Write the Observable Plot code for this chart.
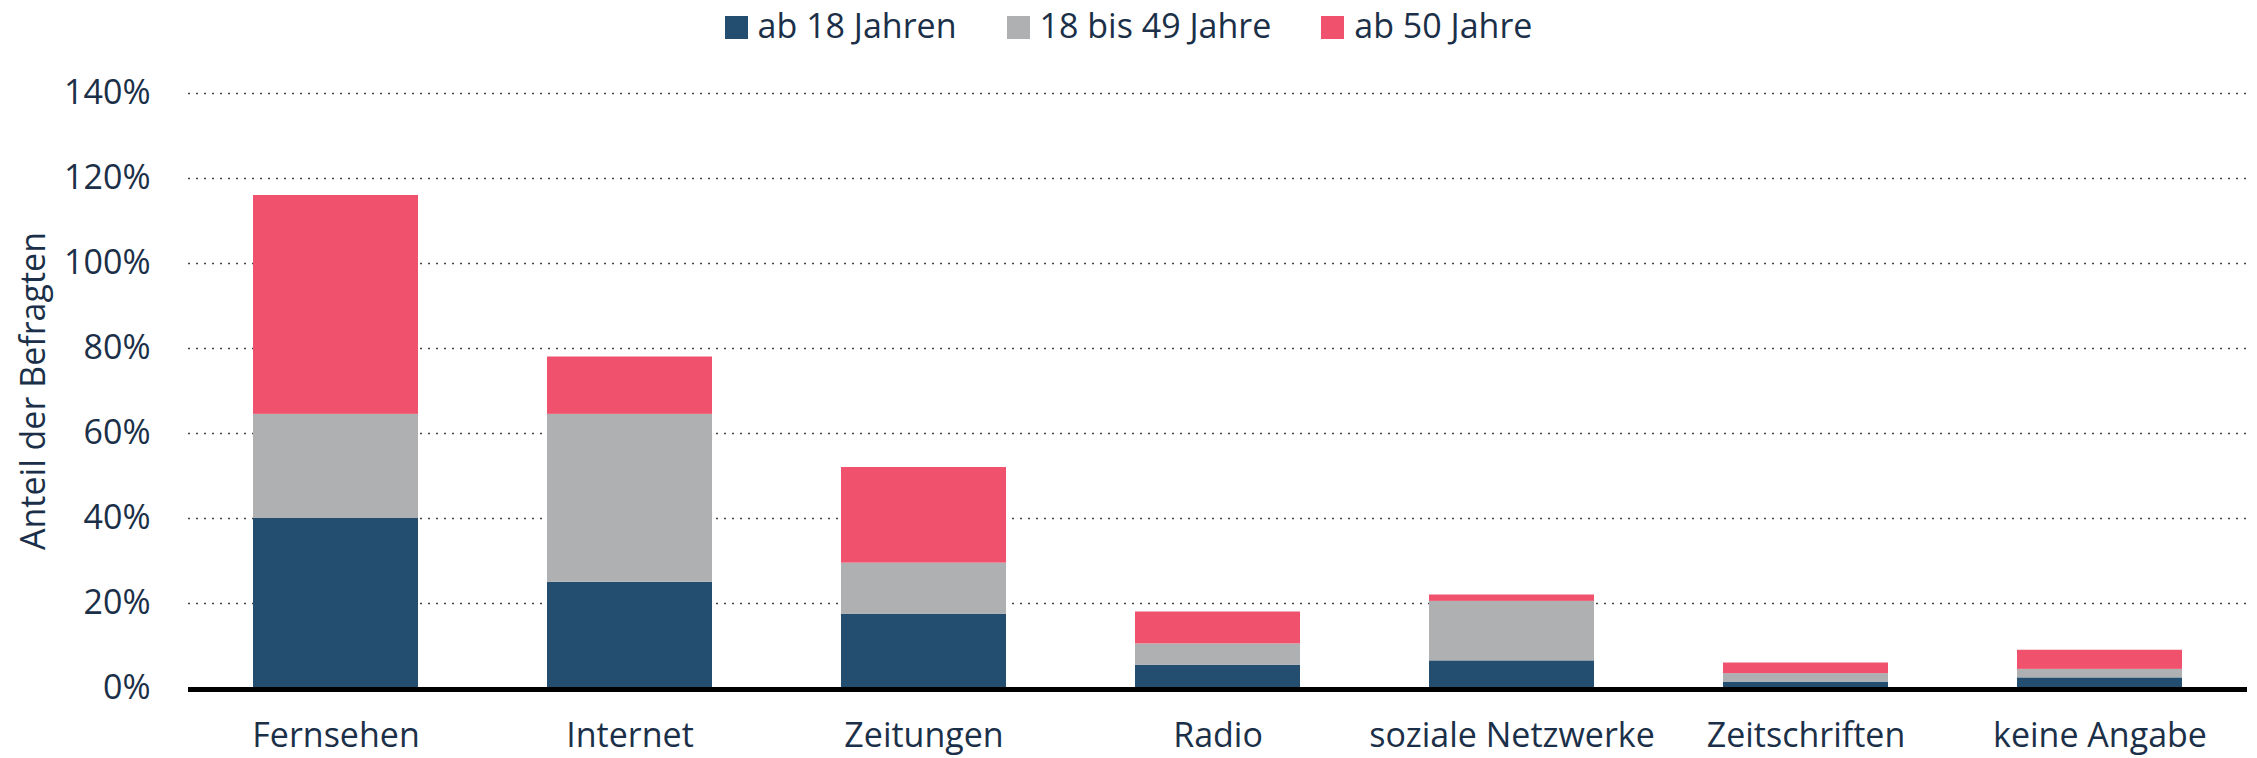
<!DOCTYPE html>
<html>
<head>
<meta charset="utf-8">
<script src="https://cdn.jsdelivr.net/npm/d3@7"></script>
<script src="https://cdn.jsdelivr.net/npm/@observablehq/plot@0.6"></script>
<style>
  html, body { margin: 0; padding: 0; background: #fff; }
  body { width: 2257px; height: 758px; overflow: hidden; font-family: "Open Sans", sans-serif; color: #1b3048; }
  #legend { height: 50px; display: flex; justify-content: center; font-size: 34px; line-height: 46px; }
  .item { display: flex; align-items: center; margin: 0 25px; }
  .sw { width: 23px; height: 23px; margin-right: 10px; margin-top: 5px; }
</style>
</head>
<body>
<div id="legend"></div>
<div id="chart"></div>
<script>
const categories = ["Fernsehen", "Internet", "Zeitungen", "Radio", "soziale Netzwerke", "Zeitschriften", "keine Angabe"];
const groups = ["ab 18 Jahren", "18 bis 49 Jahre", "ab 50 Jahre"];
const colors = ["#244e6f", "#afb0b1", "#f0526e"];
const ab18 = [40, 25, 17.5, 5.5, 6.5, 1.5, 2.5];
const bis49 = [24.5, 39.5, 12, 5, 14, 2, 2];
const ab50 = [51.5, 13.5, 22.5, 7.5, 1.5, 2.5, 4.5];
const yTicks = [0, 20, 40, 60, 80, 100, 120, 140];

const series = [ab18, bis49, ab50];
const data = [];
groups.forEach((g, gi) => categories.forEach((c, ci) => data.push({medium: c, group: g, value: series[gi][ci]})));

const legend = document.getElementById("legend");
groups.forEach((g, i) => {
  const it = document.createElement("div");
  it.className = "item";
  const sw = document.createElement("div");
  sw.className = "sw";
  sw.style.background = colors[i];
  const tx = document.createElement("span");
  tx.textContent = g;
  it.appendChild(sw); it.appendChild(tx);
  legend.appendChild(it);
});

const chart = Plot.plot({
  width: 2257,
  height: 708,
  marginLeft: 188,
  marginRight: 10,
  marginTop: 43,
  marginBottom: 70,
  style: {fontFamily: "'Open Sans', sans-serif", fontSize: "34px", color: "#1b3048", background: "#fff"},
  x: {domain: categories, paddingInner: 0.439, paddingOuter: 0.22, label: null},
  y: {domain: [0, 140], label: null},
  color: {domain: groups, range: colors},
  marks: [
    Plot.gridY(yTicks.filter(d => d > 0), {stroke: "#444", strokeOpacity: 1, strokeWidth: 1.5, strokeDasharray: "2,6"}),
    Plot.barY(data, {x: "medium", y: "value", fill: "group", order: groups}),
    Plot.ruleY([0], {stroke: "#000", strokeWidth: 5, dy: 1}),
    Plot.axisX({tickSize: 0, tickPadding: 34, label: null, fontSize: 34}),
    Plot.axisY({ticks: yTicks, tickFormat: d => d + "%", tickSize: 0, tickPadding: 38, fontSize: 34,
      label: "Anteil der Befragten", labelAnchor: "center", labelArrow: "none", labelOffset: 168})
  ]
});
document.getElementById("chart").appendChild(chart);
</script>
</body>
</html>
